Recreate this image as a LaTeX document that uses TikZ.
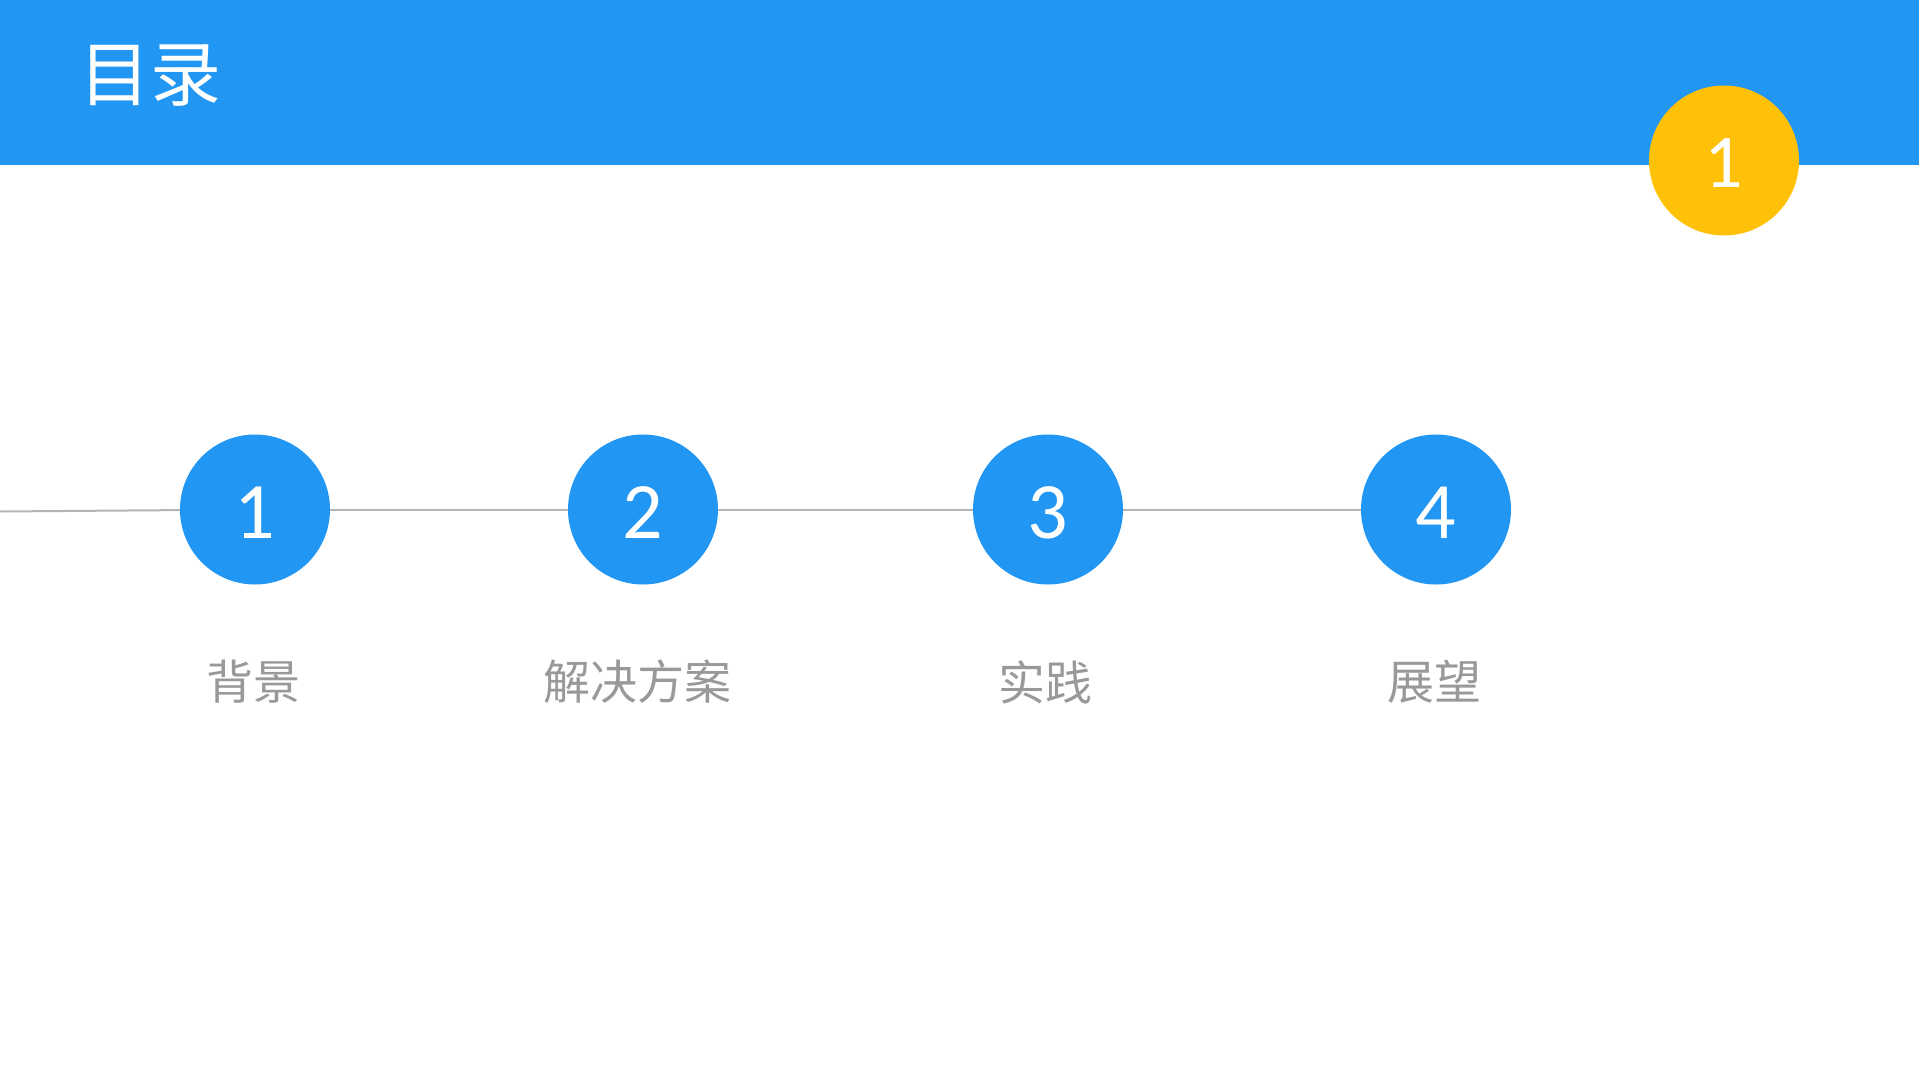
\documentclass[tikz,border=0pt]{standalone}
\usepackage{fontspec}
\newfontfamily\cjk{Noto Sans CJK SC}
\newfontfamily\numfont{Carlito}
\definecolor{hdrblue}{HTML}{2196F3}
\definecolor{amber}{HTML}{FFC107}
\definecolor{lblgray}{HTML}{999999}
\definecolor{linegray}{HTML}{B4B4B4}
\begin{document}
\begin{tikzpicture}[x=1pt,y=-1pt,
  stepcircle/.style={circle,fill=hdrblue,minimum size=150pt,inner sep=0pt,draw=none},
  numtext/.style={text=white,font=\numfont\fontsize{80}{80}\selectfont,inner sep=0pt},
  lbltext/.style={text=lblgray,font=\cjk\fontsize{47}{47}\selectfont,inner sep=0pt},
  connector/.style={draw=linegray,line width=2pt}]
\useasboundingbox (0,0) rectangle (1919,1079);
\fill[white] (0,0) rectangle (1919,1079);
\fill[hdrblue] (0,0) rectangle (1919,164.5);
\node[text=white,font=\cjk\fontsize{71}{71}\selectfont,inner sep=0pt] (title) at (150,75) {目录};
\node[circle,fill=amber,minimum size=150pt,inner sep=0pt] (badge) at (1724,160.5) {};
\node[text=white,font=\numfont\fontsize{76}{76}\selectfont,inner sep=0pt] (badgenum) at (1724,163) {1};
\coordinate (lstart) at (0,511.5);
\node[stepcircle] (c1) at (255,509.5) {};
\node[stepcircle] (c2) at (643,509.5) {};
\node[stepcircle] (c3) at (1048,509.5) {};
\node[stepcircle] (c4) at (1436,509.5) {};
\draw[connector] (lstart) -- (c1);
\draw[connector] (c1) -- (c2);
\draw[connector] (c2) -- (c3);
\draw[connector] (c3) -- (c4);
\node[numtext] (n1) at (255,512.5) {1};
\node[numtext] (n2) at (643,512.5) {2};
\node[numtext] (n3) at (1048,512.5) {3};
\node[numtext] (n4) at (1436,512.5) {4};
\node[lbltext] (l1) at (253,682) {背景};
\node[lbltext] (l2) at (637,682) {解决方案};
\node[lbltext] (l3) at (1045.5,682) {实践};
\node[lbltext] (l4) at (1434,682) {展望};
\end{tikzpicture}
\end{document}
